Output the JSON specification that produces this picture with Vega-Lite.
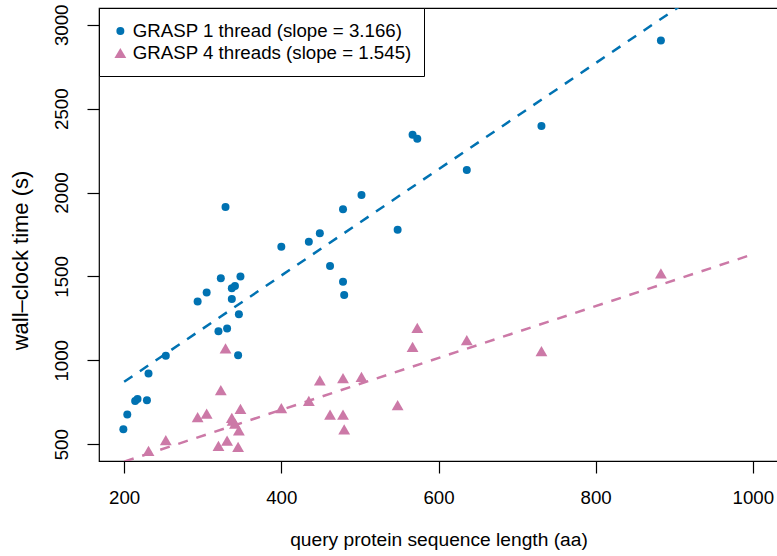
{
  "$schema": "https://vega.github.io/schema/vega-lite/v6.json",
  "width": 679,
  "height": 453,
  "autosize": {"type": "none"},
  "padding": {"left": 99, "top": 8, "right": 0, "bottom": 95},
  "background": "white",
  "config": {
    "view": {"stroke": "black", "strokeWidth": 1.2},
    "font": "Liberation Sans",
    "axis": {
      "domain": false,
      "grid": false,
      "tickColor": "black",
      "tickSize": 12,
      "tickWidth": 1.2,
      "labelFont": "Liberation Sans",
      "labelFontSize": 18.7,
      "labelColor": "black",
      "titleFont": "Liberation Sans",
      "titleFontSize": 19.2,
      "titleFontWeight": "normal",
      "titleColor": "black"
    }
  },
  "datasets": {
    "points": [
      {"length": 199, "time": 589, "series": "GRASP 1 thread (slope = 3.166)"},
      {"length": 204, "time": 677, "series": "GRASP 1 thread (slope = 3.166)"},
      {"length": 214, "time": 758, "series": "GRASP 1 thread (slope = 3.166)"},
      {"length": 217, "time": 770, "series": "GRASP 1 thread (slope = 3.166)"},
      {"length": 229, "time": 762, "series": "GRASP 1 thread (slope = 3.166)"},
      {"length": 231, "time": 922, "series": "GRASP 1 thread (slope = 3.166)"},
      {"length": 253, "time": 1027, "series": "GRASP 1 thread (slope = 3.166)"},
      {"length": 293.5, "time": 1351, "series": "GRASP 1 thread (slope = 3.166)"},
      {"length": 305, "time": 1405, "series": "GRASP 1 thread (slope = 3.166)"},
      {"length": 320, "time": 1174, "series": "GRASP 1 thread (slope = 3.166)"},
      {"length": 323, "time": 1489, "series": "GRASP 1 thread (slope = 3.166)"},
      {"length": 329, "time": 1914, "series": "GRASP 1 thread (slope = 3.166)"},
      {"length": 331, "time": 1190, "series": "GRASP 1 thread (slope = 3.166)"},
      {"length": 337, "time": 1429, "series": "GRASP 1 thread (slope = 3.166)"},
      {"length": 337, "time": 1365, "series": "GRASP 1 thread (slope = 3.166)"},
      {"length": 341, "time": 1443, "series": "GRASP 1 thread (slope = 3.166)"},
      {"length": 345, "time": 1031, "series": "GRASP 1 thread (slope = 3.166)"},
      {"length": 346, "time": 1274, "series": "GRASP 1 thread (slope = 3.166)"},
      {"length": 348, "time": 1500, "series": "GRASP 1 thread (slope = 3.166)"},
      {"length": 400, "time": 1677, "series": "GRASP 1 thread (slope = 3.166)"},
      {"length": 435, "time": 1707, "series": "GRASP 1 thread (slope = 3.166)"},
      {"length": 449, "time": 1757, "series": "GRASP 1 thread (slope = 3.166)"},
      {"length": 462, "time": 1562, "series": "GRASP 1 thread (slope = 3.166)"},
      {"length": 478.5, "time": 1900, "series": "GRASP 1 thread (slope = 3.166)"},
      {"length": 478.5, "time": 1468, "series": "GRASP 1 thread (slope = 3.166)"},
      {"length": 480, "time": 1389, "series": "GRASP 1 thread (slope = 3.166)"},
      {"length": 502, "time": 1985, "series": "GRASP 1 thread (slope = 3.166)"},
      {"length": 548, "time": 1779, "series": "GRASP 1 thread (slope = 3.166)"},
      {"length": 567, "time": 2344, "series": "GRASP 1 thread (slope = 3.166)"},
      {"length": 573, "time": 2320, "series": "GRASP 1 thread (slope = 3.166)"},
      {"length": 636, "time": 2135, "series": "GRASP 1 thread (slope = 3.166)"},
      {"length": 731, "time": 2396, "series": "GRASP 1 thread (slope = 3.166)"},
      {"length": 883, "time": 2906, "series": "GRASP 1 thread (slope = 3.166)"},
      {"length": 231, "time": 460, "series": "GRASP 4 threads (slope = 1.545)"},
      {"length": 253, "time": 524, "series": "GRASP 4 threads (slope = 1.545)"},
      {"length": 293.5, "time": 661, "series": "GRASP 4 threads (slope = 1.545)"},
      {"length": 305, "time": 683, "series": "GRASP 4 threads (slope = 1.545)"},
      {"length": 320, "time": 490, "series": "GRASP 4 threads (slope = 1.545)"},
      {"length": 323, "time": 822, "series": "GRASP 4 threads (slope = 1.545)"},
      {"length": 329, "time": 1071, "series": "GRASP 4 threads (slope = 1.545)"},
      {"length": 331, "time": 522, "series": "GRASP 4 threads (slope = 1.545)"},
      {"length": 337, "time": 657, "series": "GRASP 4 threads (slope = 1.545)"},
      {"length": 338, "time": 640, "series": "GRASP 4 threads (slope = 1.545)"},
      {"length": 341, "time": 623, "series": "GRASP 4 threads (slope = 1.545)"},
      {"length": 345, "time": 484, "series": "GRASP 4 threads (slope = 1.545)"},
      {"length": 346, "time": 583, "series": "GRASP 4 threads (slope = 1.545)"},
      {"length": 348, "time": 711, "series": "GRASP 4 threads (slope = 1.545)"},
      {"length": 400, "time": 715, "series": "GRASP 4 threads (slope = 1.545)"},
      {"length": 435, "time": 758, "series": "GRASP 4 threads (slope = 1.545)"},
      {"length": 449, "time": 880, "series": "GRASP 4 threads (slope = 1.545)"},
      {"length": 462, "time": 677, "series": "GRASP 4 threads (slope = 1.545)"},
      {"length": 478.5, "time": 894, "series": "GRASP 4 threads (slope = 1.545)"},
      {"length": 478.5, "time": 677, "series": "GRASP 4 threads (slope = 1.545)"},
      {"length": 480, "time": 589, "series": "GRASP 4 threads (slope = 1.545)"},
      {"length": 502, "time": 901, "series": "GRASP 4 threads (slope = 1.545)"},
      {"length": 548, "time": 733, "series": "GRASP 4 threads (slope = 1.545)"},
      {"length": 567, "time": 1080, "series": "GRASP 4 threads (slope = 1.545)"},
      {"length": 573, "time": 1194, "series": "GRASP 4 threads (slope = 1.545)"},
      {"length": 636, "time": 1121, "series": "GRASP 4 threads (slope = 1.545)"},
      {"length": 731, "time": 1055, "series": "GRASP 4 threads (slope = 1.545)"},
      {"length": 883, "time": 1518, "series": "GRASP 4 threads (slope = 1.545)"}
    ],
    "lines": [
      {"length": 200, "time": 872, "series": "GRASP 1 thread (slope = 3.166)"},
      {"length": 1000, "time": 3405, "series": "GRASP 1 thread (slope = 3.166)"},
      {"length": 200, "time": 396, "series": "GRASP 4 threads (slope = 1.545)"},
      {"length": 1000, "time": 1632, "series": "GRASP 4 threads (slope = 1.545)"}
    ]
  },
  "layer": [
    {
      "data": {"name": "lines"},
      "transform": [{"filter": "datum.series === 'GRASP 1 thread (slope = 3.166)'"}],
      "mark": {"type": "line", "strokeDash": [10, 9], "strokeWidth": 2.5, "clip": true, "color": "#0072B2"},
      "encoding": {
        "x": {"field": "length", "type": "quantitative"},
        "y": {"field": "time", "type": "quantitative"}
      }
    },
    {
      "data": {"name": "lines"},
      "transform": [{"filter": "datum.series === 'GRASP 4 threads (slope = 1.545)'"}],
      "mark": {"type": "line", "strokeDash": [10, 9], "strokeWidth": 2.5, "clip": true, "color": "#CC79A7"},
      "encoding": {
        "x": {"field": "length", "type": "quantitative"},
        "y": {"field": "time", "type": "quantitative"}
      }
    },
    {
      "data": {"name": "points"},
      "mark": {"type": "point", "filled": true, "opacity": 1},
      "encoding": {
        "x": {
          "field": "length",
          "type": "quantitative",
          "scale": {"domain": [168, 1032], "nice": false, "zero": false},
          "axis": {
            "title": "query protein sequence length (aa)",
            "values": [200, 400, 600, 800, 1000],
            "format": "d",
            "labelPadding": 15.6,
            "titleBaseline": "alphabetic",
            "titleY": 84
          }
        },
        "y": {
          "field": "time",
          "type": "quantitative",
          "scale": {"domain": [400, 3100], "nice": false, "zero": false},
          "axis": {
            "title": "wall–clock time (s)",
            "values": [500, 1000, 1500, 2000, 2500, 3000],
            "format": "d",
            "labelAngle": -90,
            "labelAlign": "center",
            "labelBaseline": "alphabetic",
            "labelPadding": 19.5,
            "titleAngle": -90,
            "titleAlign": "center",
            "titleBaseline": "alphabetic",
            "titleFontSize": 22,
            "titleX": -72,
            "titleY": 252
          }
        },
        "color": {
          "field": "series",
          "type": "nominal",
          "scale": {"domain": ["GRASP 1 thread (slope = 3.166)", "GRASP 4 threads (slope = 1.545)"], "range": ["#0072B2", "#CC79A7"]},
          "legend": {
            "title": null,
            "orient": "none",
            "legendX": 0,
            "legendY": 0,
            "strokeColor": "black",
            "fillColor": "white",
            "padding": 12,
            "labelFontSize": 18.7,
            "labelColor": "black",
            "labelFont": "Liberation Sans",
            "labelLimit": 400,
            "labelOffset": 3,
            "symbolSize": 88,
            "clipHeight": 22,
            "rowPadding": 0
          }
        },
        "shape": {
          "field": "series",
          "type": "nominal",
          "scale": {"domain": ["GRASP 1 thread (slope = 3.166)", "GRASP 4 threads (slope = 1.545)"], "range": ["circle", "triangle-up"]},
          "legend": {"title": null, "orient": "none", "legendX": 0, "legendY": 0}
        },
        "size": {
          "field": "series",
          "type": "nominal",
          "scale": {"domain": ["GRASP 1 thread (slope = 3.166)", "GRASP 4 threads (slope = 1.545)"], "range": [64, 140]},
          "legend": null
        }
      }
    }
  ]
}
